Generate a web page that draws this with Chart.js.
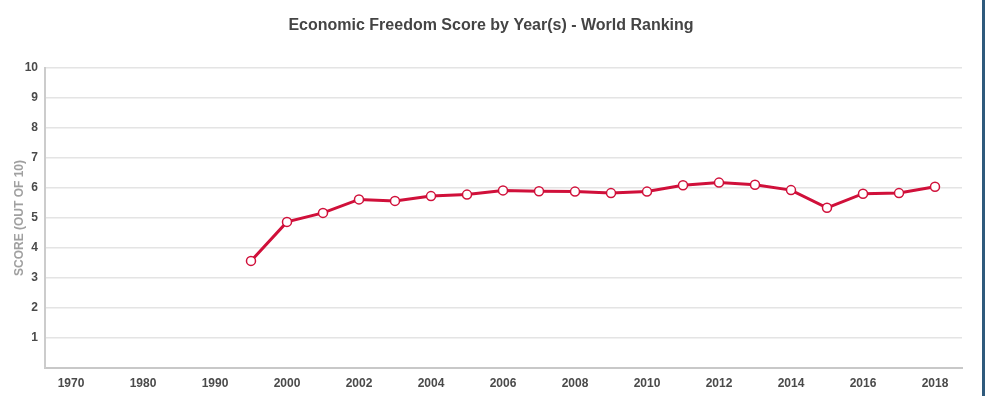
<!DOCTYPE html>
<html>
<head>
<meta charset="utf-8">
<script src="https://cdn.jsdelivr.net/npm/chart.js@4/dist/chart.umd.min.js"></script>
<style>
  html, body { margin:0; padding:0; background:#fff; overflow:hidden; }
  #wrap { position:absolute; left:0; top:0; width:982px; height:396px; }
  #edge { position:absolute; left:982px; top:0; width:3px; height:396px; background:#2f5a7c; }
</style>
</head>
<body>
<div id="wrap"><canvas id="scoreChart"></canvas></div>
<div id="edge"></div>
<script>
// ============================================
// Economic Freedom Score - World Ranking
// ============================================

const years = [
    "1970","1975","1980","1985","1990","1995",
    "2000","2001","2002","2003","2004","2005","2006","2007","2008","2009",
    "2010","2011","2012","2013","2014","2015","2016","2017","2018"
];

const scores = [
    null, null, null, null, null, 3.57,
    4.87, 5.17, 5.62, 5.57, 5.73, 5.78, 5.92, 5.89, 5.88, 5.83,
    5.88, 6.09, 6.18, 6.11, 5.93, 5.34, 5.81, 5.83, 6.04
];

const yTicks = [0,1,2,3,4,5,6,7,8,9,10];

const chartTitle = "Economic Freedom Score by Year(s) - World Ranking";
const yTitle = "SCORE (OUT OF 10)";


const red = "#d0103a";
const fontFamily = "'Liberation Sans', Arial, sans-serif";


const points =
    years.map((y,i)=>({ x:i, y:scores[i] }));


new Chart(

    document.getElementById("scoreChart"),

    {

    type:"line",

    data:{
        datasets:[{
            label:"Score",
            data:points,
            borderColor:red,
            borderWidth:3,
            tension:0,
            pointRadius:4.5,
            pointBorderWidth:1.5,
            pointBorderColor:red,
            pointBackgroundColor:"#fff"
        }]
    },

    options:{

        responsive:true,
        maintainAspectRatio:false,
        animation:false,

        layout:{
            padding:0
        },

        plugins:{
            legend:{ display:false },
            tooltip:{ enabled:false },
            title:{
                display:true,
                text:chartTitle,
                color:"#444",
                font:{ family:fontFamily, size:16, weight:"bold" },
                padding:{ top:16, bottom:32.8 }
            }
        },

        scales:{

            x:{
                type:"linear",
                min:-0.722,
                max:24.75,
                grid:{ display:false, drawTicks:false },
                border:{ display:true, color:"#c8c8c8", width:2 },
                afterBuildTicks:scale=>{
                    scale.ticks = years
                        .map((y,i)=>({ value:i }))
                        .filter(t=>t.value % 2 === 0);
                },
                afterFit:scale=>{ scale.height = 28; },
                ticks:{
                    autoSkip:false,
                    maxRotation:0,
                    padding:8,
                    color:"#4a4a4a",
                    font:{ family:fontFamily, size:12, weight:"bold" },
                    callback:value=>years[value]
                }
            },

            y:{
                min:yTicks[0],
                max:yTicks[yTicks.length-1],
                afterBuildTicks:scale=>{
                    scale.ticks = yTicks.map(v=>({ value:v }));
                },
                afterFit:scale=>{ scale.width = 45; },
                grid:{ color:"#e4e4e4", lineWidth:1.5, drawTicks:false },
                border:{ display:true, color:"#cccccc", width:2 },
                ticks:{
                    padding:7,
                    color:"#4a4a4a",
                    font:{ family:fontFamily, size:12, weight:"bold" },
                    callback:value=> value === 0 ? "" : value
                },
                title:{
                    display:true,
                    text:yTitle,
                    color:"#a0a0a0",
                    font:{ family:fontFamily, size:12, weight:"bold" },
                    padding:{ top:12, bottom:0 }
                }
            },

            // empty right-hand margin so the title stays centred on the page
            yRight:{
                position:"right",
                min:yTicks[0],
                max:yTicks[yTicks.length-1],
                grid:{ display:false, drawTicks:false },
                border:{ display:false },
                ticks:{ display:false },
                afterFit:scale=>{ scale.width = 20; }
            }

        }

    }

    }

);
</script>
</body>
</html>
